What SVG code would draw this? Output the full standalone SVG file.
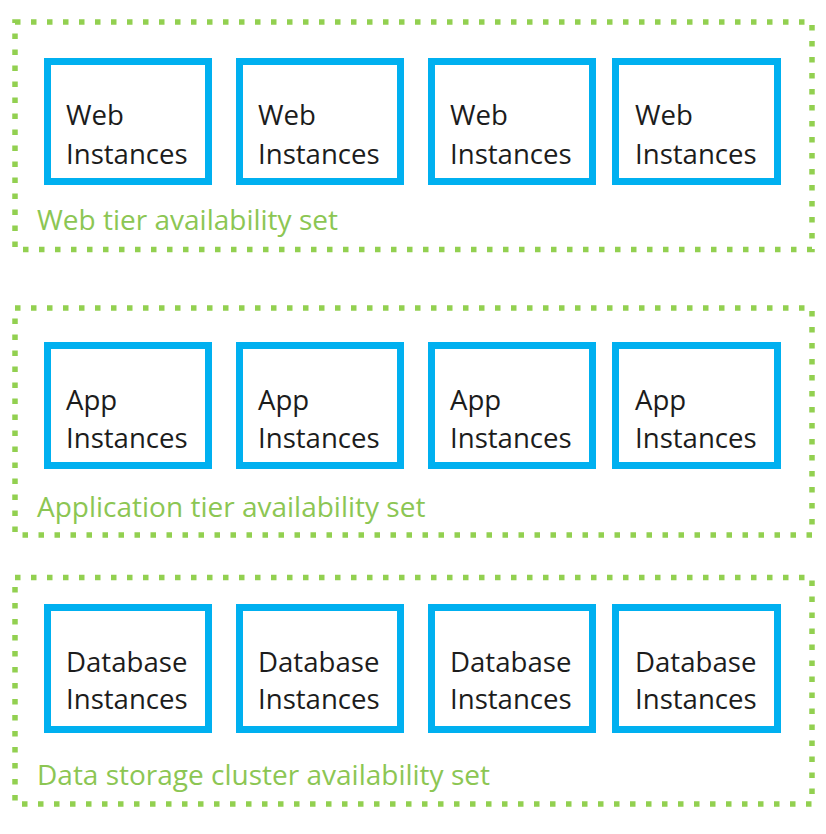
<svg xmlns="http://www.w3.org/2000/svg" width="826" height="834" viewBox="0 0 826 834">
<style>
.set{fill:none;stroke:#92d050;stroke-width:5.5;stroke-dasharray:5.5 10.5}
.inst{fill:#ffffff;stroke:#00b0f0;stroke-width:7}
.t{font-family:"Open Sans","Noto Sans",sans-serif;font-size:27.6px;fill:#1c1c1c}
.lbl{font-family:"Open Sans","Noto Sans",sans-serif;font-size:28px;fill:#8cc653}
</style>
<rect width="826" height="834" fill="#ffffff"/>
<g id="web-set">
<rect class="set" x="15" y="22" width="797" height="227.5"/>
<text class="lbl" x="37" y="230">Web tier availability set</text>
</g>
<g id="web-1"><rect class="inst" x="47.5" y="61.5" width="161" height="120"/><text class="t" x="66" y="125">Web</text><text class="t" x="66" y="164">Instances</text></g>
<g id="web-2"><rect class="inst" x="239.5" y="61.5" width="161" height="120"/><text class="t" x="258" y="125">Web</text><text class="t" x="258" y="164">Instances</text></g>
<g id="web-3"><rect class="inst" x="431.5" y="61.5" width="161" height="120"/><text class="t" x="450" y="125">Web</text><text class="t" x="450" y="164">Instances</text></g>
<g id="web-4"><rect class="inst" x="615.5" y="61.5" width="162" height="120"/><text class="t" x="635" y="125">Web</text><text class="t" x="635" y="164">Instances</text></g>

<g id="app-set">
<rect class="set" x="15" y="308" width="797" height="227"/>
<text class="lbl" x="37" y="517">Application tier availability set</text>
</g>
<g id="app-1"><rect class="inst" x="47.5" y="345.5" width="161" height="120"/><text class="t" x="66" y="410">App</text><text class="t" x="66" y="448">Instances</text></g>
<g id="app-2"><rect class="inst" x="239.5" y="345.5" width="161" height="120"/><text class="t" x="258" y="410">App</text><text class="t" x="258" y="448">Instances</text></g>
<g id="app-3"><rect class="inst" x="431.5" y="345.5" width="161" height="120"/><text class="t" x="450" y="410">App</text><text class="t" x="450" y="448">Instances</text></g>
<g id="app-4"><rect class="inst" x="615.5" y="345.5" width="162" height="120"/><text class="t" x="635" y="410">App</text><text class="t" x="635" y="448">Instances</text></g>

<g id="db-set">
<rect class="set" x="15" y="577.5" width="797" height="226.5"/>
<text class="lbl" x="37" y="785">Data storage cluster availability set</text>
</g>
<g id="db-1"><rect class="inst" x="47.5" y="607.5" width="161" height="122"/><text class="t" x="66" y="672">Database</text><text class="t" x="66" y="709">Instances</text></g>
<g id="db-2"><rect class="inst" x="239.5" y="607.5" width="161" height="122"/><text class="t" x="258" y="672">Database</text><text class="t" x="258" y="709">Instances</text></g>
<g id="db-3"><rect class="inst" x="431.5" y="607.5" width="161" height="122"/><text class="t" x="450" y="672">Database</text><text class="t" x="450" y="709">Instances</text></g>
<g id="db-4"><rect class="inst" x="615.5" y="607.5" width="162" height="122"/><text class="t" x="635" y="672">Database</text><text class="t" x="635" y="709">Instances</text></g>
<g id="connectors"/>
</svg>
